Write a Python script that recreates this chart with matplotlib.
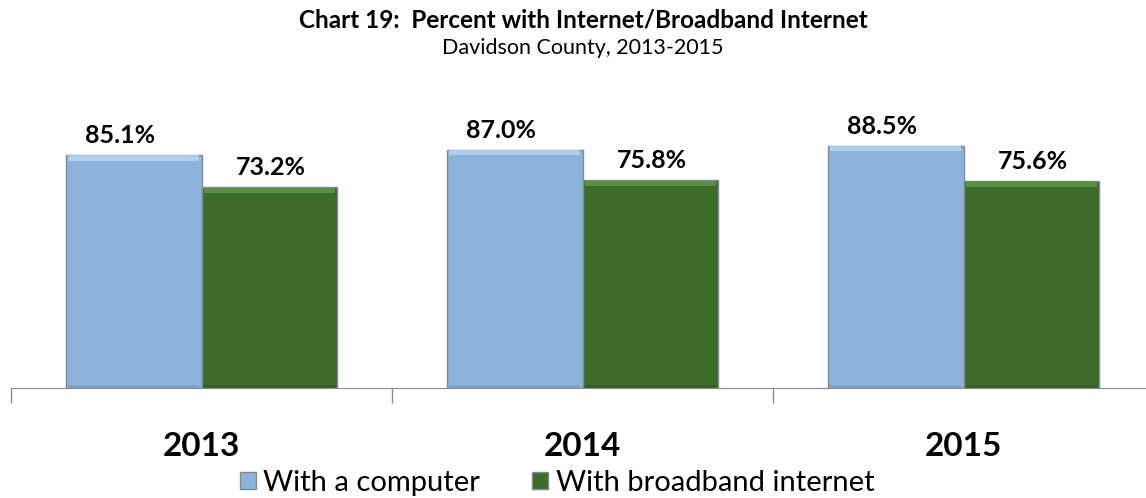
import matplotlib.pyplot as plt
import numpy as np
from matplotlib.patches import Patch

plt.rcParams['font.family'] = ['Lato', 'DejaVu Sans']

years = ["2013", "2014", "2015"]
computer = [85.1, 87.0, 88.5]
broadband = [73.2, 75.8, 75.6]
series_names = ["With a computer", "With broadband internet"]

BLUE = "#8cb4db"
BLUE_HI = "#b8d6f2"
BLUE_LO = "#7096bd"
GREEN = "#3d6b2a"
GREEN_HI = "#62994a"
GREEN_LO = "#2f5520"
EDGE = "#7f8a94"

fig = plt.figure(figsize=(11.46, 4.98), dpi=100)
ax = fig.add_axes([11 / 1146, 110 / 498, 1143 / 1146, 274 / 498])

x = np.arange(len(years))
w = 0.355
styles = [(computer, -w / 2, BLUE, BLUE_HI, BLUE_LO, -14),
          (broadband, w / 2, GREEN, GREEN_HI, GREEN_LO, 2)]
for vals, off, col, hi, lo, dx in styles:
    ax.bar(x + off, vals, w, color=col, edgecolor=EDGE, linewidth=1.0, zorder=2)
    # bevel: light strip on top, darker strip at the base
    ax.bar(x + off, [2.0] * len(vals), w * 0.97, bottom=[v - 2.1 for v in vals],
           color=hi, alpha=0.8, linewidth=0, zorder=3)
    ax.bar(x + off, [1.1] * len(vals), w * 0.97, bottom=0.1,
           color=lo, alpha=0.6, linewidth=0, zorder=3)
    for xi, v in zip(x + off, vals):
        ax.annotate(f"{v:.1f}%", (xi, v), xytext=(dx, 8), textcoords="offset pixels",
                    ha="center", va="bottom", fontsize=18, fontweight="bold", color="black")

ax.set_ylim(0, 100)
ax.set_xlim(-0.5, 2.5)
ax.set_yticks([])
for s in ["top", "right", "left"]:
    ax.spines[s].set_visible(False)
ax.spines["bottom"].set_color("#8c8c8c")
ax.set_xticks([-0.5, 0.5, 1.5, 2.5])
ax.set_xticklabels([])
ax.tick_params(axis="x", length=11, color="#8c8c8c", width=1)
for xi, yr in zip(x, years):
    ax.annotate(yr, (xi, 0), xytext=(0, -58), textcoords="offset pixels",
                ha="center", va="center", fontsize=24, fontweight="bold")

fig.text(583 / 1146, 1 - 20 / 498, "Chart 19:  Percent with Internet/Broadband Internet",
         ha="center", va="center", fontsize=17.5, fontweight="bold")
fig.text(583 / 1146, 1 - 48 / 498, "Davidson County, 2013-2015",
         ha="center", va="center", fontsize=15.5)

handles = [Patch(facecolor=BLUE, edgecolor=EDGE), Patch(facecolor=GREEN, edgecolor=EDGE)]
fig.legend(handles, series_names, loc="center", bbox_to_anchor=(557 / 1146, 1 - 483 / 498),
           ncol=2, frameon=False, fontsize=21, handlelength=0.55, handleheight=0.55,
           handletextpad=0.25, columnspacing=1.8, borderpad=0)

fig.savefig("out.png", dpi=100)
